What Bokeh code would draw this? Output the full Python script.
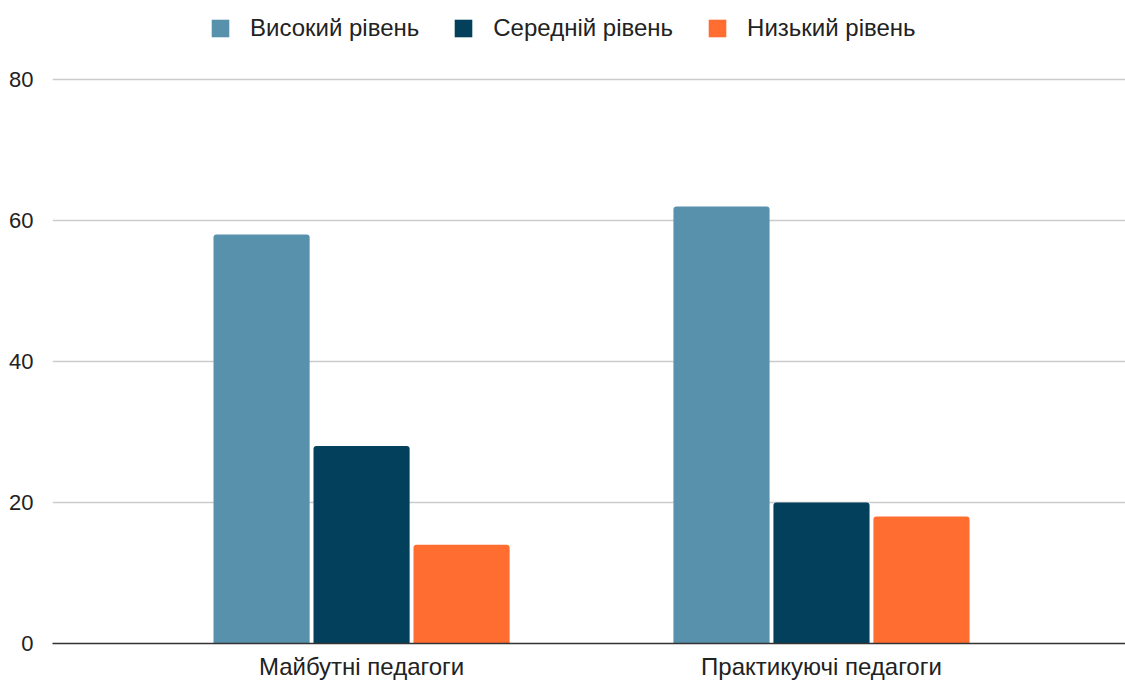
from bokeh.plotting import figure
from bokeh.models import ColumnDataSource, Legend, LegendItem, FixedTicker
from bokeh.transform import dodge
from bokeh.embed import file_html
from bokeh.resources import INLINE

categories = ["Майбутні педагоги", "Практикуючі педагоги"]
series_names = ["Високий рівень", "Середній рівень", "Низький рівень"]
high = [58, 62]
mid = [28, 20]
low = [14, 18]
y_ticks = [0, 20, 40, 60, 80]

colors = ["#5791AB", "#02405B", "#FF6D30"]
FONT = "Liberation Sans"
FS_NUM = "22px"
FS_TXT = "24px"

xpos = list(range(len(categories)))
src = ColumnDataSource(dict(x=xpos, high=high, mid=mid, low=low))

FH = 643
p = figure(frame_width=1073, frame_height=FH, x_range=(-0.672, 1.661), y_range=(0, 80 * FH / (FH - 79)),
           output_backend="svg", toolbar_location=None,
           min_border_left=52, min_border_right=0, min_border_top=0, min_border_bottom=0)
p.outline_line_color = None
p.background_fill_color = "white"
p.border_fill_color = "white"

w = 0.209
off = 0.2174
renderers = []
for col, c, o in zip(["high", "mid", "low"], colors, [-off, 0, off]):
    r = p.vbar(x=dodge("x", o), top=col, width=w, source=src, fill_color=c,
               line_color=None, border_radius=(3, 3, 0, 0))
    renderers.append(r)

p.xaxis.ticker = FixedTicker(ticks=xpos)
p.xaxis.major_label_overrides = {i: c for i, c in enumerate(categories)}
p.xaxis.major_tick_line_color = None
p.xaxis.minor_tick_line_color = None
p.xaxis.axis_line_color = "#333333"
p.xaxis.axis_line_width = 1.5
p.xaxis.major_label_text_font = FONT
p.xaxis.major_label_text_font_size = FS_TXT
p.xaxis.major_label_text_color = "#222222"
p.xaxis.major_label_standoff = 3

p.yaxis.ticker = FixedTicker(ticks=y_ticks)
p.yaxis.major_tick_line_color = None
p.yaxis.minor_tick_line_color = None
p.yaxis.axis_line_color = None
p.yaxis.major_label_text_font = FONT
p.yaxis.major_label_text_font_size = FS_NUM
p.yaxis.major_label_text_color = "#222222"
p.yaxis.major_label_standoff = 13

p.xgrid.grid_line_color = None
p.ygrid.grid_line_color = "#cccccc"
p.ygrid.grid_line_width = 1.3

legend = Legend(items=[LegendItem(label=n, renderers=[r]) for n, r in zip(series_names, renderers)],
                orientation="horizontal", location=(157, FH - 42),
                label_text_font=FONT, label_text_font_size=FS_TXT, label_text_color="#222222",
                glyph_width=22, glyph_height=22, label_standoff=19, spacing=33,
                border_line_color=None, background_fill_alpha=0, padding=4, margin=0)
p.add_layout(legend, "center")

open("out.html", "w").write(file_html(p, INLINE))
